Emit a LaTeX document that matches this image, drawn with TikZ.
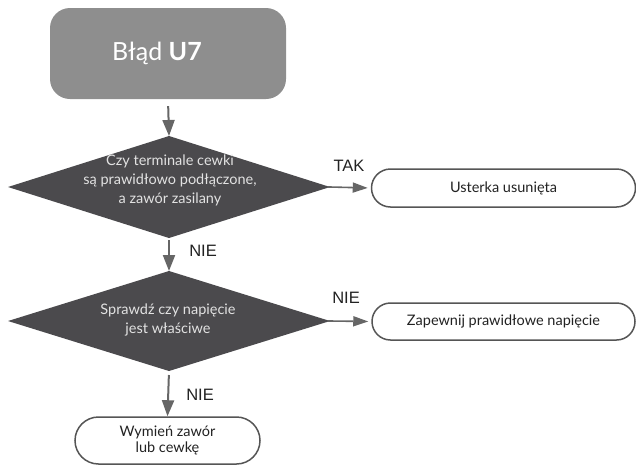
\documentclass[tikz,border=0pt]{standalone}
\usepackage{fontspec}
\setmainfont{Lato}
\newfontfamily\labfont{Liberation Sans}
\usetikzlibrary{shapes.misc,arrows.meta}
\definecolor{boxgray}{HTML}{8E8E8E}
\definecolor{diagray}{HTML}{4B4A4D}
\definecolor{arrgray}{HTML}{666666}
\definecolor{linegray}{HTML}{555555}
\definecolor{txtlight}{HTML}{E2E2E2}
\definecolor{labcol}{HTML}{222222}
\tikzset{
  startbox/.style={rectangle, rounded corners=20pt, fill=boxgray, text=white,
    minimum width=236pt, minimum height=91pt, inner sep=0pt,
    font=\fontsize{25}{28}\selectfont},
  diamondfill/.style={fill=diagray},
  decision/.style={text=txtlight, inner sep=0pt,
    align=center, font=\fontsize{14.5}{19}\selectfont},
  endbox/.style={rounded rectangle, draw=linegray, line width=1.5pt, fill=white,
    inner sep=0pt, align=center, text=labcol, font=\fontsize{14.5}{16}\selectfont},
  vflow/.style={draw=arrgray, line width=2pt, -{Triangle[width=12pt,length=16pt]}},
  hflow/.style={draw=arrgray, line width=1.6pt, -{Triangle[width=10pt,length=15pt]}},
  answer/.style={font=\labfont\fontsize{16.5}{18}\selectfont, text=labcol, inner sep=0pt}
}
\begin{document}
\begin{tikzpicture}[x=1pt,y=-1pt]
\useasboundingbox (0,0) rectangle (636,467);
% decision 1 outline
\coordinate (d1n) at (169,136);
\coordinate (d1e) at (330,187);
\coordinate (d1s) at (169,238);
\coordinate (d1w) at (8,187);
\fill[diamondfill] (d1n) -- (d1e) -- (d1s) -- (d1w) -- cycle;
% decision 2 outline
\coordinate (d2n) at (169,271);
\coordinate (d2e) at (330,321);
\coordinate (d2s) at (169,371);
\coordinate (d2w) at (8,321);
\fill[diamondfill] (d2n) -- (d2e) -- (d2s) -- (d2w) -- cycle;
\node[startbox] (start) at (168,53.5) {Błąd \textbf{U7}\hspace*{22pt}};
\node[decision] (d1) at (170,180) {Czy terminale cewki\\są prawidłowo podłączone,\\a zawór zasilany};
\node[decision] (d2) at (168,320) {Sprawdź czy napięcie\\jest właściwe};
\node[endbox, minimum width=264pt, minimum height=38pt] (ok) at (503.5,188) {Usterka usunięta};
\node[endbox, minimum width=263pt, minimum height=37pt] (volt) at (503.5,321.5) {Zapewnij prawidłowe napięcie};
\node[endbox, minimum width=185pt, minimum height=47pt] (repl) at (167.5,440.5) {Wymień zawór\\lub cewkę};
\draw[vflow, shorten <=7pt] (start.south) -- (d1n);
\draw[vflow, shorten <=2pt] (d1s) -- (d2n);
\draw[vflow, shorten <=4pt] (d2s) -- (repl.north);
\draw[hflow, shorten <=-2pt, shorten >=3pt] (d1e) -- (ok.west);
\draw[hflow, shorten <=-2pt, shorten >=3pt] (d2e) -- (volt.west);
\node[answer] (tak) at (349,166) {TAK};
\node[answer] (nie1) at (203,251) {NIE};
\node[answer] (nie2) at (346,298) {NIE};
\node[answer] (nie3) at (200,395) {NIE};
\end{tikzpicture}
\end{document}
